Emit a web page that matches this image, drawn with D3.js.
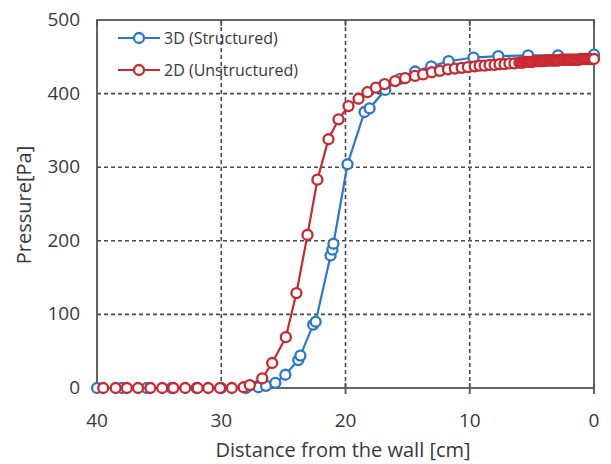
<!DOCTYPE html>
<html>
<head>
<meta charset="utf-8">
<script src="https://cdn.jsdelivr.net/npm/d3@7"></script>
<style>
  body { margin: 0; background: #fff; }
  text { font-family: "Open Sans", "Liberation Sans", sans-serif; fill: #383838; }
</style>
</head>
<body>
<svg width="611" height="464"></svg>
<script>
// distance from the wall [cm] and pressure [Pa]
const blueX = [40, 38, 36, 34, 32, 30, 28, 27, 26.4, 25.65,
  24.84, 23.8, 23.63, 22.6, 22.4, 21.2, 21.05, 20.97, 19.84, 18.47,
  18.06, 16.8, 15.6, 14.4, 13.1, 11.7, 9.7, 7.7, 5.3, 2.9, 0]
const blueY = [0, 0, 0, 0, 0, 0, 0, 1, 3, 7,
  18, 38, 44, 86, 90, 180, 188, 196, 304, 375,
  380, 405, 420, 430, 437, 444, 449, 451, 452, 452, 453]

const redX = [39.5, 38.5, 37.6, 36.7, 35.7, 34.75, 33.85, 32.9, 31.9, 31.05,
  30.1, 29.15, 28.2, 27.7, 26.7, 25.9, 24.8, 23.95, 23.06, 22.26,
  21.37, 20.56, 19.76, 18.95, 18.23, 17.55, 16.85, 16.0, 15.2, 14.4,
  13.75, 13.05, 12.4, 11.75, 11.2, 10.65, 10.15, 9.6, 9.2, 8.8,
  8.4, 8.0, 7.6, 7.2, 6.8, 6.4, 6.0, 5.85, 5.7, 5.55,
  5.4, 5.25, 5.1, 4.95, 4.8, 4.65, 4.5, 4.35, 4.2, 4.05,
  3.9, 3.75, 3.6, 3.45, 3.3, 3.15, 3.0, 2.85, 2.7, 2.55,
  2.4, 2.25, 2.1, 1.95, 1.8, 1.65, 1.5, 1.35, 1.2, 1.05,
  0.9, 0.75, 0.6, 0.45, 0.3, 0.15, 0]
const redY = [0, 0, 0, 0, 0, 0, 0, 0, 0, 0,
  0, 0, 1, 4, 13, 34, 69, 129, 208, 283,
  338, 365, 383, 393, 402, 408, 413, 417, 421, 424,
  426, 429, 431, 433, 434, 435, 436, 437, 438, 438,
  439, 439, 440, 440, 441, 441, 442, 442, 442, 443,
  443, 443, 443, 443, 444, 444, 444, 444, 444, 444,
  445, 445, 445, 445, 445, 445, 445, 445, 446, 446,
  446, 446, 446, 446, 446, 446, 446, 446, 446, 447,
  447, 447, 447, 447, 447, 447, 447]

const xTicks = [40, 30, 20, 10, 0]
const yTicks = [0, 100, 200, 300, 400, 500]

const series = [
  { name: "3D (Structured)", xs: blueX, ys: blueY, color: "#2a78cc" },
  { name: "2D (Unstructured)", xs: redX, ys: redY, color: "#c8282e" }
]

const svg = d3.select("svg")
const x = d3.scaleLinear().domain([40, 0]).range([97, 594])
const y = d3.scaleLinear().domain([0, 500]).range([388, 20])

// dashed grid
svg.append("g").selectAll("line")
  .data(xTicks.filter(d => d > 0 && d < 40))
  .enter().append("line")
  .attr("x1", d => x(d)).attr("x2", d => x(d))
  .attr("y1", y(500)).attr("y2", y(0))
  .attr("stroke", "#4a4a4a").attr("stroke-width", 1.6)
  .attr("stroke-dasharray", "4,3")
svg.append("g").selectAll("line")
  .data(yTicks.filter(d => d > 0 && d < 500))
  .enter().append("line")
  .attr("x1", x(40)).attr("x2", x(0))
  .attr("y1", d => y(d)).attr("y2", d => y(d))
  .attr("stroke", "#4a4a4a").attr("stroke-width", 1.6)
  .attr("stroke-dasharray", "4,3")

// frame
svg.append("rect")
  .attr("x", x(40)).attr("y", y(500))
  .attr("width", x(0) - x(40)).attr("height", y(0) - y(500))
  .attr("fill", "none").attr("stroke", "#555").attr("stroke-width", 1.8)

// small ticks
svg.append("g").selectAll("line")
  .data(xTicks)
  .enter().append("line")
  .attr("x1", d => x(d)).attr("x2", d => x(d))
  .attr("y1", y(0) - 5).attr("y2", y(0) + 6)
  .attr("stroke", "#555").attr("stroke-width", 1.8)
svg.append("g").selectAll("line")
  .data(xTicks)
  .enter().append("line")
  .attr("x1", d => x(d)).attr("x2", d => x(d))
  .attr("y1", y(500)).attr("y2", y(500) + 6)
  .attr("stroke", "#555").attr("stroke-width", 1.8)

// tick labels
svg.append("g").selectAll("text")
  .data(xTicks)
  .enter().append("text")
  .attr("x", d => x(d)).attr("y", 427)
  .attr("text-anchor", "middle")
  .style("font-size", "19px")
  .text(d => d)
svg.append("g").selectAll("text")
  .data(yTicks)
  .enter().append("text")
  .attr("x", 80).attr("y", d => y(d) + 6)
  .attr("text-anchor", "end")
  .style("font-size", "19px")
  .text(d => d)

// axis titles
svg.append("text")
  .attr("x", 343).attr("y", 457)
  .attr("text-anchor", "middle")
  .style("font-size", "20px")
  .text("Distance from the wall [cm]")
svg.append("text")
  .attr("transform", "translate(31,205) rotate(-90)")
  .attr("text-anchor", "middle")
  .style("font-size", "20px")
  .text("Pressure[Pa]")

// series
const line = d3.line().x(d => x(d[0])).y(d => y(d[1]))
series.forEach(s => {
  const pts = s.xs.map((v, i) => [v, s.ys[i]])
  svg.append("path")
    .datum(pts)
    .attr("d", line)
    .attr("fill", "none").attr("stroke", s.color).attr("stroke-width", 2.2)
  svg.append("g").selectAll("circle")
    .data(pts)
    .enter().append("circle")
    .attr("cx", d => x(d[0])).attr("cy", d => y(d[1]))
    .attr("r", 5)
    .attr("fill", "#fff").attr("stroke", s.color).attr("stroke-width", 2.3)
})

// legend
const legend = svg.append("g").selectAll("g")
  .data(series)
  .enter().append("g")
  .attr("transform", (d, i) => "translate(118," + (38 + i * 32) + ")")
legend.append("line")
  .attr("x1", 0).attr("x2", 42)
  .attr("stroke", d => d.color).attr("stroke-width", 2.2)
legend.append("circle")
  .attr("cx", 21).attr("r", 5)
  .attr("fill", "#fff").attr("stroke", d => d.color).attr("stroke-width", 2.3)
legend.append("text")
  .attr("x", 46).attr("y", 5.5)
  .style("font-size", "16px")
  .text(d => d.name)
</script>
</body>
</html>
